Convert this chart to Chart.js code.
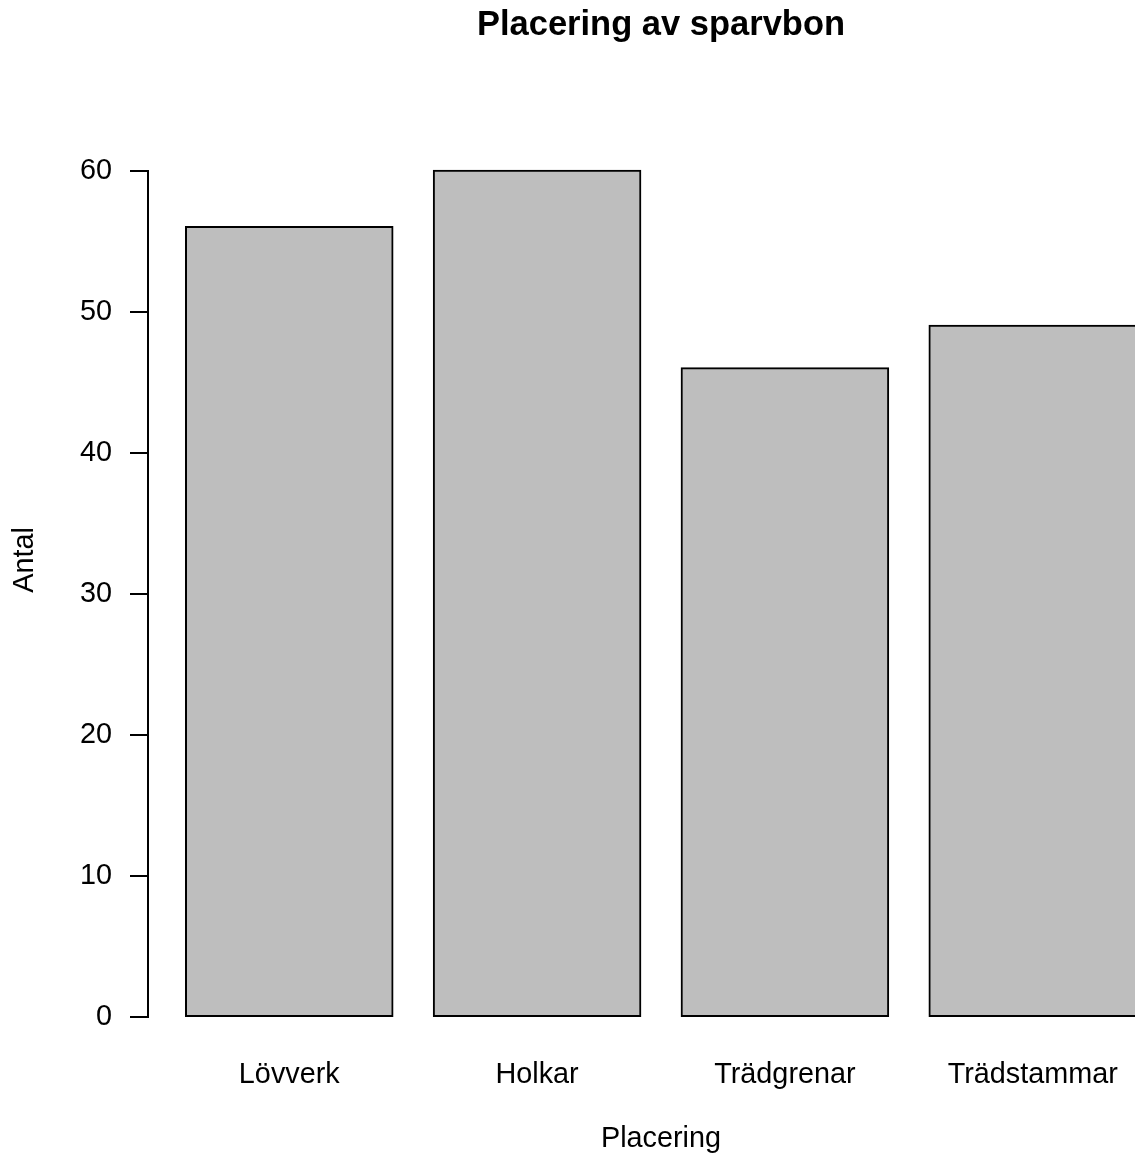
<!DOCTYPE html>
<html>
<head>
<meta charset="utf-8">
<script src="https://cdn.jsdelivr.net/npm/chart.js@4/dist/chart.umd.min.js"></script>
<style>
  html, body { margin: 0; padding: 0; background: #fff; overflow: hidden; }
  #wrap { width: 1174px; height: 1163px; }
  canvas { display: block; }
</style>
</head>
<body>
<div id="wrap"><canvas id="c" width="1174" height="1163"></canvas></div>
<script>
// ---- data ----
const chartTitle = 'Placering av sparvbon';
const xTitle = 'Placering';
const yTitle = 'Antal';
const categories = ['Lövverk', 'Holkar', 'Trädgrenar', 'Trädstammar'];
const counts = [56, 60, 46, 49];
const yTickValues = [0, 10, 20, 30, 40, 50, 60];

// R barplot geometry: bar width 1, space 0.2
const barWidth = 1, barSpace = 0.2;
const centers = categories.map((_, i) => barSpace + i * (barWidth + barSpace) + barWidth / 2);
const xLo = barSpace, xHi = categories.length * (barWidth + barSpace);
const xPad = 0.04 * (xHi - xLo);

const FONT = 'Liberation Sans, Arial, Helvetica, sans-serif';
const BASE = 28.8;

const yAxisLine = {
  id: 'yAxisLine',
  afterDatasetsDraw(chart) {
    const y = chart.scales.y;
    const ctx = chart.ctx;
    const x = Math.round(y.right);
    ctx.save();
    ctx.strokeStyle = '#000';
    ctx.lineWidth = 2;
    ctx.beginPath();
    ctx.moveTo(x, Math.round(y.getPixelForValue(yTickValues[0])) + 1);
    ctx.lineTo(x, Math.round(y.getPixelForValue(yTickValues[yTickValues.length - 1])) - 1);
    ctx.stroke();
    ctx.restore();
  }
};

new Chart(document.getElementById('c'), {
  type: 'bar',
  data: {
    datasets: [{
      data: categories.map((c, i) => ({ x: centers[i], y: counts[i] })),
      backgroundColor: '#BEBEBE',
      borderColor: '#000000',
      borderWidth: 2,
      borderSkipped: false,
      inflateAmount: 1,
      categoryPercentage: 1,
      barPercentage: barWidth / (barWidth + barSpace)
    }]
  },
  options: {
    responsive: false,
    animation: false,
    devicePixelRatio: 1,
    layout: { padding: 0 },
    plugins: {
      legend: { display: false },
      tooltip: { enabled: false },
      title: {
        display: true,
        text: chartTitle,
        fullSize: false,
        color: '#000',
        font: { family: FONT, size: 34.5, weight: 'bold' },
        padding: { top: 5, bottom: 56.6 }
      }
    },
    scales: {
      x: {
        type: 'linear',
        offset: false,
        min: xLo - xPad,
        max: xHi + xPad,
        afterBuildTicks: (s) => { s.ticks = centers.map(v => ({ value: v })); },
        afterFit: (s) => { s.height = 146; },
        ticks: {
          color: '#000',
          font: { family: FONT, size: BASE },
          padding: 41,
          maxRotation: 0,
          autoSkip: false,
          callback: (v, i) => categories[i]
        },
        grid: { display: false, drawTicks: false, offset: false },
        border: { display: false },
        title: {
          display: true,
          text: xTitle,
          color: '#000',
          font: { family: FONT, size: BASE },
          padding: { top: 29.7, bottom: 6.2 }
        }
      },
      y: {
        min: 0,
        max: 64.8,
        afterBuildTicks: (s) => { s.ticks = yTickValues.map(v => ({ value: v })); },
        afterFit: (s) => { s.width = 148; },
        ticks: {
          color: '#000',
          font: { family: FONT, size: BASE },
          padding: 18
        },
        grid: {
          display: true,
          drawOnChartArea: false,
          drawTicks: true,
          tickLength: 18,
          color: '#000',
          lineWidth: 2
        },
        border: { display: false },
        title: {
          display: true,
          text: yTitle,
          color: '#000',
          font: { family: FONT, size: BASE },
          padding: { top: 8, bottom: 0 }
        }
      }
    }
  },
  plugins: [yAxisLine]
});
</script>
</body>
</html>
